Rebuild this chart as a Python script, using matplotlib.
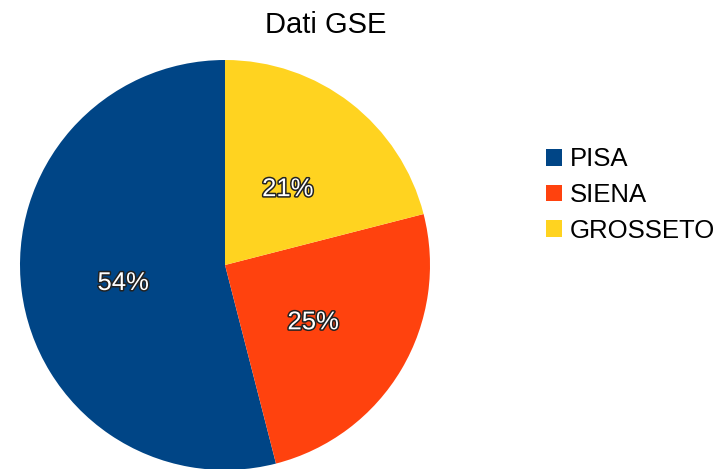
import matplotlib
matplotlib.use('Agg')
import matplotlib.pyplot as plt
import matplotlib.patheffects as pe
from matplotlib.patches import Patch

# Data
labels = ['PISA', 'SIENA', 'GROSSETO']
values = [54, 25, 21]
colors = ['#004586', '#ff420e', '#ffd320']

plt.rcParams['font.family'] = ['Liberation Sans', 'DejaVu Sans']

fig = plt.figure(figsize=(7.24, 4.69), dpi=100)
ax = fig.add_axes([20 / 724, -1 / 469, 410 / 724, 410 / 469])

wedges, texts, autotexts = ax.pie(values, colors=colors, startangle=90,
                                  counterclock=True, autopct='%1.0f%%',
                                  pctdistance=0.5, radius=1.0)
ax.set_aspect('equal')
ax.set_xlim(-1, 1)
ax.set_ylim(-1, 1)

for t in autotexts:
    t.set_fontsize(18.5)
    t.set_color('white')
    t.set_path_effects([pe.withStroke(linewidth=2.2, foreground='#222222')])
    # nudge labels down a little, like the reference
    x, y = t.get_position()
    t.set_position((x, y - 0.025))

fig.text(326 / 724, 1 - 25 / 469, 'Dati GSE', ha='center', va='center', fontsize=21)

handles = [Patch(facecolor=c, edgecolor='none') for c in colors]
fig.legend(handles, labels, loc='center left', bbox_to_anchor=(536 / 724, 1 - 195 / 469),
           frameon=False, fontsize=18.5, handlelength=0.6, handleheight=0.6,
           handletextpad=0.3, labelspacing=0.45, borderaxespad=0)

fig.savefig('out.png', dpi=100)
